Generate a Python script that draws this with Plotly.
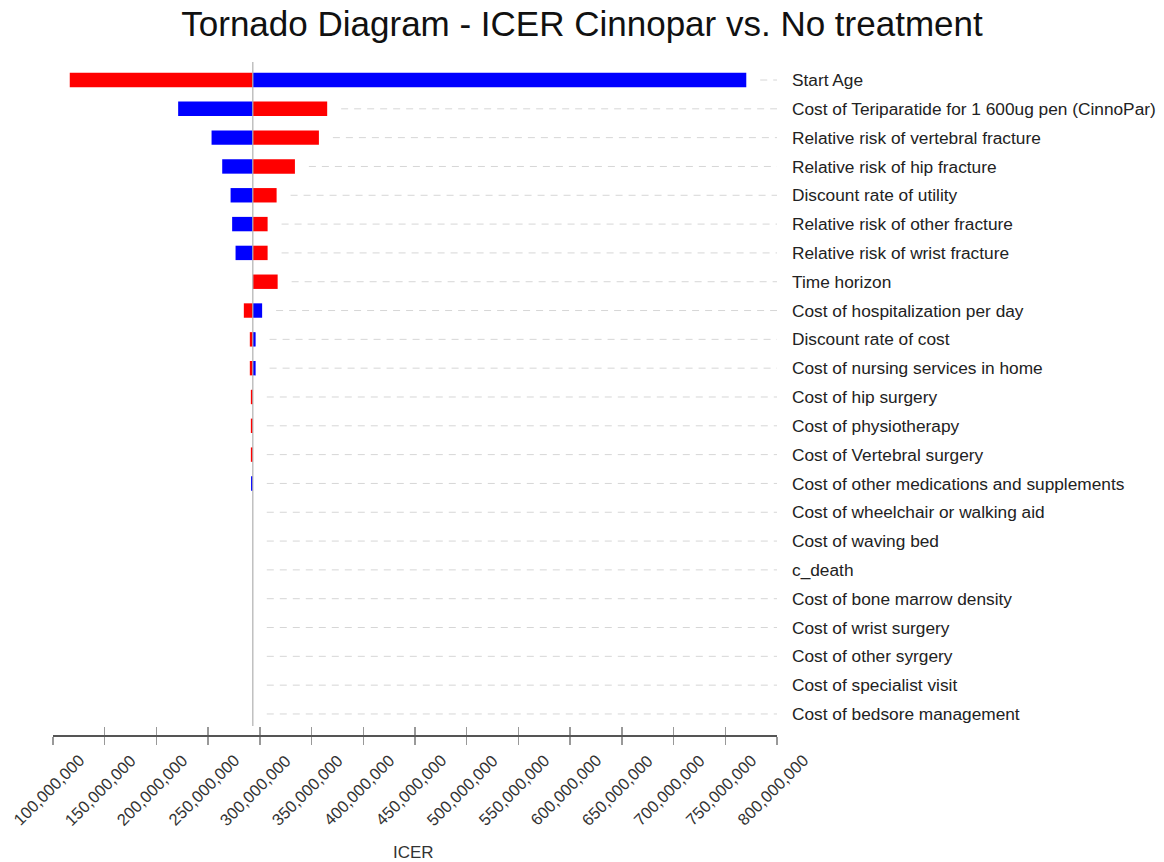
import plotly.graph_objects as go

categories = [
    "Start Age",
    "Cost of Teriparatide for 1 600ug pen (CinnoPar)",
    "Relative risk of vertebral fracture",
    "Relative risk of hip fracture",
    "Discount rate of utility",
    "Relative risk of other fracture",
    "Relative risk of wrist fracture",
    "Time horizon",
    "Cost of hospitalization per day",
    "Discount rate of cost",
    "Cost of nursing services in home",
    "Cost of hip surgery",
    "Cost of physiotherapy",
    "Cost of Vertebral surgery",
    "Cost of other medications and supplements",
    "Cost of wheelchair or walking aid",
    "Cost of waving bed",
    "c_death",
    "Cost of bone marrow density",
    "Cost of wrist surgery",
    "Cost of other syrgery",
    "Cost of specialist visit",
    "Cost of bedsore management",
]

base_icer_m = 293.2

# ICER at the "red" and "blue" ends of each parameter range (in millions)
red_icer = [116.2, 365.1, 357.1, 333.9, 316.2, 307.5, 307.5, 317.2, 284.5, 290.3,
            290.3, 291.3, 291.3, 291.3, 293.2, 293.2, 293.2, 293.2, 293.2, 293.2,
            293.2, 293.2, 293.2]
blue_icer = [770.3, 221.0, 253.3, 263.6, 271.7, 273.2, 276.5, 293.2, 302.2, 295.9,
             295.9, 293.2, 293.2, 293.2, 291.5, 293.2, 293.2, 293.2, 293.2, 293.2,
             293.2, 293.2, 293.2]

tick_vals_m = [100, 150, 200, 250, 300, 350, 400, 450, 500, 550, 600, 650, 700, 750, 800]

base_icer = base_icer_m * 1e6
tick_vals = [int(v * 1e6) for v in tick_vals_m]
tick_text = [f"{v:,}" for v in tick_vals]
red_vals = [v * 1e6 for v in red_icer]
blue_vals = [v * 1e6 for v in blue_icer]
idx = list(range(len(categories)))
n = len(categories)

fig = go.Figure()
fig.add_trace(go.Bar(
    y=idx, x=[v - base_icer for v in red_vals], base=base_icer,
    orientation="h", marker=dict(color="#ff0000", line=dict(width=0)),
    width=0.5, showlegend=False, hoverinfo="skip"))
fig.add_trace(go.Bar(
    y=idx, x=[v - base_icer for v in blue_vals], base=base_icer,
    orientation="h", marker=dict(color="#0000ff", line=dict(width=0)),
    width=0.5, showlegend=False, hoverinfo="skip"))
# invisible trace for overlay axis
fig.add_trace(go.Scatter(x=[tick_vals[0]], y=[0], xaxis="x2", mode="markers",
                         marker=dict(opacity=0), showlegend=False, hoverinfo="skip"))

shapes = []
gap = 13.5e6
for i in idx:
    x0 = max(base_icer, red_vals[i], blue_vals[i]) + gap
    shapes.append(dict(type="line", xref="x", yref="y", x0=x0, x1=tick_vals[-1],
                       y0=i, y1=i, layer="below",
                       line=dict(color="#d6d6d6", width=1, dash="7px,6px")))
shapes.append(dict(type="line", xref="x", yref="y", x0=base_icer, x1=base_icer,
                   y0=-0.625, y1=n - 1 + 0.42, layer="above",
                   line=dict(color="#b0b0b0", width=1.2)))

annotations = []
for v, t in zip(tick_vals, tick_text):
    annotations.append(dict(x=v, xref="x", y=0, yref="paper", text=t,
                            textangle=-45, showarrow=False,
                            xanchor="center", yanchor="middle",
                            xshift=-4.5, yshift=-55,
                            font=dict(size=16.5, color="#333333")))
annotations.append(dict(x=0.5, xref="paper", y=0, yref="paper", text="ICER",
                        showarrow=False, xanchor="center", yanchor="middle",
                        xshift=-2, yshift=-117,
                        font=dict(size=17, color="#333333")))

fig.update_layout(
    width=1164, height=862,
    margin=dict(l=53, r=387, t=62, b=127),
    paper_bgcolor="white", plot_bgcolor="white",
    barmode="overlay",
    font=dict(family="Liberation Sans, Arial, sans-serif", size=17, color="#222222"),
    title=dict(text="Tornado Diagram - ICER Cinnopar vs. No treatment",
               x=0.5, xref="container", xanchor="center",
               y=0.9861, yref="container", yanchor="top",
               font=dict(size=35, color="#111111")),
    shapes=shapes,
    annotations=annotations,
    xaxis=dict(range=[tick_vals[0], tick_vals[-1]], tickvals=tick_vals,
               showticklabels=False, ticks="outside", ticklen=8,
               tickcolor="#999999", tickwidth=1.5,
               showline=True, linecolor="#555555", linewidth=1.5,
               showgrid=False, zeroline=False, automargin=False),
    xaxis2=dict(overlaying="x", matches="x", anchor="y", side="bottom",
                tickvals=tick_vals, ticks="inside", ticklen=8,
                tickcolor="#999999", tickwidth=1.5, showticklabels=False,
                showline=False, showgrid=False, zeroline=False, automargin=False),
    yaxis=dict(range=[n - 1 + 0.73, -0.625], tickvals=idx, ticktext=categories,
               side="right", showgrid=False, zeroline=False, showline=False,
               ticks="", ticklabelstandoff=14, automargin=False,
               tickfont=dict(size=17.3, color="#222222")),
)

fig.write_html("out.html",
               config={"displayModeBar": False, "staticPlot": True},
               post_script="document.body.style.margin='0';document.body.style.overflow='hidden';")
